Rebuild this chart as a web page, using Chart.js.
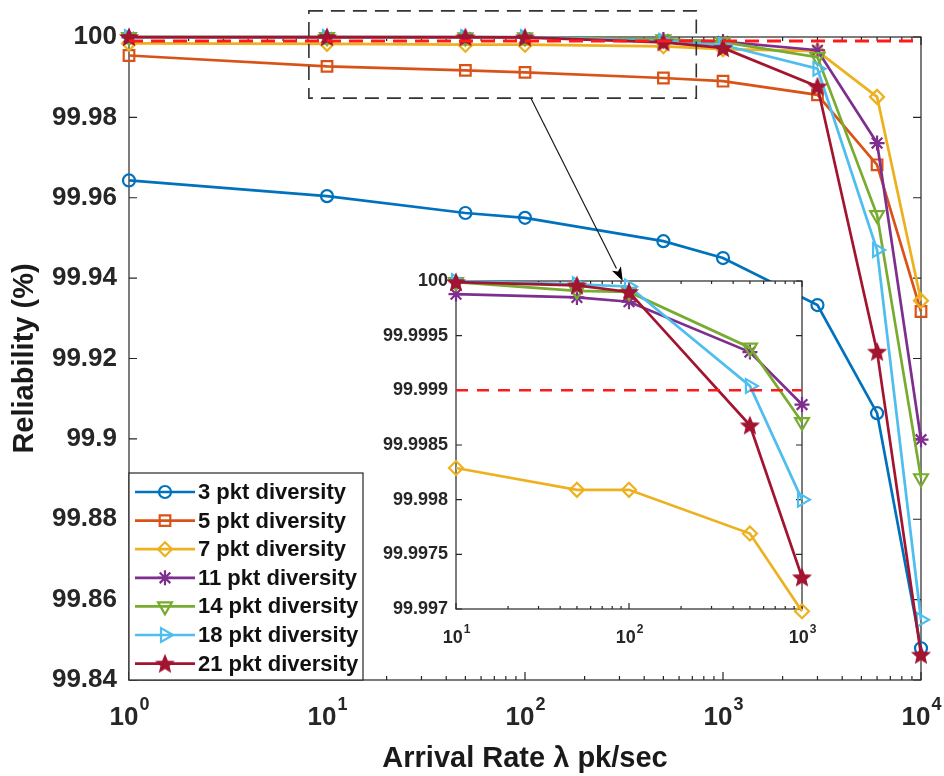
<!DOCTYPE html>
<html>
<head>
<meta charset="utf-8">
<title>Reliability vs arrival rate</title>
<script src="https://cdn.jsdelivr.net/npm/chart.js@4.4.1/dist/chart.umd.min.js"></script>
<style>
  html, body { margin: 0; padding: 0; background: #ffffff; }
  #wrap { position: relative; width: 944px; height: 776px; }
  #wrap canvas { position: absolute; left: 0; top: 0; }
</style>
</head>
<body>
<div id="wrap">
  <canvas id="mainChart" width="944" height="776"></canvas>
  <canvas id="insetChart" width="944" height="776"></canvas>
</div>
<script>
// ---- data -------------------------------------------------------------
// Arrival rate (pk/sec) at which reliability was evaluated
const arrivalRate = [1, 10, 50, 100, 500, 1000, 3000, 6000, 10000];

// Reliability (%) for each packet-diversity level
const rel3  = [99.9643, 99.9604, 99.9562, 99.9550, 99.9492, 99.9450, 99.9333, 99.9064, 99.8479];
const rel5  = [99.9954, 99.9927, 99.9917, 99.9912, 99.9898, 99.9890, 99.9856, 99.9682, 99.9317];
const rel7  = [99.9984, 99.99829, 99.99809, 99.99809, 99.99769, 99.99698, 99.9965, 99.9851, 99.9344];
const rel11 = [99.99990, 99.99988, 99.99985, 99.99981, 99.99935, 99.99887, 99.9967, 99.9736, 99.8998];
const rel14 = [100.0000, 99.99999, 99.99991, 99.99990, 99.99939, 99.99871, 99.9950, 99.9557, 99.8902];
const rel18 = [100.0000, 100.0000, 99.99997, 99.99995, 99.99904, 99.99800, 99.9921, 99.9470, 99.8550];
const rel21 = [100.0000, 99.99999, 99.99996, 99.99990, 99.99868, 99.99729, 99.9877, 99.9217, 99.8463];

const seriesNames = ['3 pkt diversity', '5 pkt diversity', '7 pkt diversity', '11 pkt diversity',
                     '14 pkt diversity', '18 pkt diversity', '21 pkt diversity'];
const seriesValues = [rel3, rel5, rel7, rel11, rel14, rel18, rel21];

// five-nines reliability target
const targetReliability = 99.999;

// main axes ticks
const mainYTicks  = [99.84, 99.86, 99.88, 99.9, 99.92, 99.94, 99.96, 99.98, 100];
const mainYLabels = ['99.84', '99.86', '99.88', '99.9', '99.92', '99.94', '99.96', '99.98', '100'];
const mainXDecades   = [1, 10, 100, 1000, 10000];
const mainXExponents = ['0', '1', '2', '3', '4'];

// close-up of the 10 .. 1000 pk/sec range (series 7 .. 21 pkt)
const insetFirst = 1, insetLast = 5;
const insetSeries = [2, 3, 4, 5, 6];
const insetYTicks  = [99.997, 99.9975, 99.998, 99.9985, 99.999, 99.9995, 100];
const insetYLabels = ['99.997', '99.9975', '99.998', '99.9985', '99.999', '99.9995', '100'];
const insetXDecades   = [10, 100, 1000];
const insetXExponents = ['1', '2', '3'];

// region of the main axes that the close-up enlarges, and the arrow linking them
const zoomBoxRate = [8.1, 733];
const zoomBoxRel  = [99.9848, 100.0065];
const arrowStart  = [107, 99.9848];   // main axes (rate, reliability)
const arrowEnd    = [92, 100];        // close-up axes (rate, reliability)

// ---- styling ----------------------------------------------------------
const FONT = '"Liberation Sans", Arial, Helvetica, sans-serif';
const AXIS_COLOR = '#262626';

function pentagram(color, r) {
  const c = document.createElement('canvas');
  const s = Math.ceil(2 * r + 4);
  c.width = s; c.height = s;
  const g = c.getContext('2d');
  g.translate(s / 2, s / 2 + 0.8);
  g.beginPath();
  for (let i = 0; i < 10; i++) {
    const rr = i % 2 ? r * 0.45 : r;
    const ang = -Math.PI / 2 + i * Math.PI / 5;
    g.lineTo(rr * Math.cos(ang), rr * Math.sin(ang));
  }
  g.closePath();
  g.fillStyle = color; g.fill();
  g.lineWidth = 1.2; g.strokeStyle = color; g.stroke();
  return c;
}

const seriesStyle = [
  { color: '#0072BD', marker: 'circle',   radius: 6,   rotation: 0 },
  { color: '#D95319', marker: 'rect',     radius: 7.5, rotation: 0 },
  { color: '#EDB120', marker: 'rectRot',  radius: 7,   rotation: 0 },
  { color: '#7E2F8E', marker: 'star',     radius: 7.5, rotation: 0 },
  { color: '#77AC30', marker: 'triangle', radius: 8,   rotation: 180 },
  { color: '#4DBEEE', marker: 'triangle', radius: 8,   rotation: 90 },
  { color: '#A2142F', marker: pentagram('#A2142F', 9), radius: 8.5, rotation: 0 }
];

function makeSeries(idx, xs, first, last) {
  const st = seriesStyle[idx];
  const vals = seriesValues[idx].slice(first, last + 1);
  return {
    label: seriesNames[idx],
    data: xs.map((x, j) => ({ x: x, y: vals[j] })),
    borderColor: st.color,
    backgroundColor: 'rgba(0,0,0,0)',
    borderWidth: 2.7,
    pointStyle: st.marker,
    pointRadius: st.radius,
    pointRotation: st.rotation,
    pointBorderWidth: 2.2,
    pointBorderColor: st.color,
    pointBackgroundColor: 'rgba(0,0,0,0)',
    tension: 0,
    clip: false,
    order: seriesValues.length - idx
  };
}

function targetLine(xFrom, xTo, width, dash) {
  return {
    label: 'target',
    isTarget: true,
    data: [{ x: xFrom, y: targetReliability }, { x: xTo, y: targetReliability }],
    borderColor: '#FF1A1A',
    borderWidth: width,
    borderDash: dash,
    pointRadius: 0,
    clip: false,
    order: -1
  };
}

// box, inward ticks on all four sides and 10^n labels
function axesFrame(cfg) {
  return {
    id: 'axesFrame',
    beforeDraw(chart) {
      if (!cfg.fill) return;
      const { ctx, chartArea: a } = chart;
      ctx.save();
      ctx.fillStyle = '#ffffff';
      ctx.fillRect(a.left, a.top, a.right - a.left, a.bottom - a.top);
      ctx.restore();
    },
    beforeDatasetsDraw(chart) {
      const { ctx, chartArea: a, scales: { x, y } } = chart;
      ctx.save();
      ctx.strokeStyle = AXIS_COLOR;
      ctx.lineWidth = 1.2;
      ctx.strokeRect(a.left, a.top, a.right - a.left, a.bottom - a.top);
      ctx.beginPath();
      cfg.yTicks.forEach(v => {
        const py = y.getPixelForValue(v);
        ctx.moveTo(a.left, py);  ctx.lineTo(a.left + cfg.major, py);
        ctx.moveTo(a.right, py); ctx.lineTo(a.right - cfg.major, py);
      });
      const lo = Math.floor(Math.log10(x.min) + 1e-9);
      const hi = Math.ceil(Math.log10(x.max) - 1e-9);
      for (let d = lo; d <= hi; d++) {
        for (let m = 1; m <= 9; m++) {
          const v = m * Math.pow(10, d);
          if (v < x.min * 0.999 || v > x.max * 1.001) continue;
          const px = x.getPixelForValue(v);
          const len = m === 1 ? cfg.major : cfg.minor;
          ctx.moveTo(px, a.bottom); ctx.lineTo(px, a.bottom - len);
          ctx.moveTo(px, a.top);    ctx.lineTo(px, a.top + len);
        }
      }
      ctx.stroke();

      // decade labels 10^n
      ctx.fillStyle = AXIS_COLOR;
      ctx.textBaseline = 'alphabetic';
      ctx.textAlign = 'left';
      cfg.xDecades.forEach((v, i) => {
        const px = x.getPixelForValue(v);
        ctx.font = 'bold ' + cfg.baseSize + 'px ' + FONT;
        const wb = ctx.measureText('10').width;
        ctx.font = 'bold ' + cfg.expSize + 'px ' + FONT;
        const we = ctx.measureText(cfg.xExp[i]).width;
        const x0 = px - (wb + we) / 2;
        const base = a.bottom + cfg.labelDrop;
        ctx.font = 'bold ' + cfg.baseSize + 'px ' + FONT;
        ctx.fillText('10', x0, base);
        ctx.font = 'bold ' + cfg.expSize + 'px ' + FONT;
        ctx.fillText(cfg.xExp[i], x0 + wb + 1, base - cfg.expRaise);
      });
      ctx.restore();
    }
  };
}

// dashed box around the enlarged region
const zoomBoxPlugin = {
  id: 'zoomBox',
  afterDatasetsDraw(chart) {
    const { ctx, scales: { x, y } } = chart;
    const x0 = x.getPixelForValue(zoomBoxRate[0]), x1 = x.getPixelForValue(zoomBoxRate[1]);
    const y0 = y.getPixelForValue(zoomBoxRel[1]),  y1 = y.getPixelForValue(zoomBoxRel[0]);
    ctx.save();
    ctx.strokeStyle = '#333333';
    ctx.lineWidth = 1.6;
    ctx.setLineDash([14, 8]);
    ctx.strokeRect(x0, y0, x1 - x0, y1 - y0);
    ctx.restore();
  }
};

// legend box in the lower-left corner of the main axes
const boxLegendPlugin = {
  id: 'boxLegend',
  afterDraw(chart) {
    const { ctx, chartArea: a } = chart;
    const left = a.left, right = 363, top = 473, bottom = a.bottom;
    const rowTop = 492, rowStep = 28.6;
    ctx.save();
    ctx.fillStyle = '#ffffff';
    ctx.fillRect(left, top, right - left, bottom - top);
    ctx.strokeStyle = AXIS_COLOR;
    ctx.lineWidth = 1.2;
    ctx.strokeRect(left, top, right - left, bottom - top);
    let row = 0;
    chart.data.datasets.forEach(ds => {
      if (ds.isTarget) return;
      const yy = rowTop + row * rowStep;
      ctx.strokeStyle = ds.borderColor;
      ctx.lineWidth = 2.7;
      ctx.setLineDash([]);
      ctx.beginPath();
      ctx.moveTo(left + 6, yy); ctx.lineTo(left + 66, yy);
      ctx.stroke();
      ctx.fillStyle = 'rgba(0,0,0,0)';
      ctx.lineWidth = 2.2;
      Chart.helpers.drawPoint(ctx, {
        pointStyle: ds.pointStyle, rotation: ds.pointRotation,
        radius: ds.pointRadius, borderWidth: 2.2
      }, left + 36, yy);
      ctx.fillStyle = '#111111';
      ctx.font = 'bold 22px ' + FONT;
      ctx.textAlign = 'left';
      ctx.textBaseline = 'middle';
      ctx.fillText(ds.label, left + 69, yy + 1);
      row++;
    });
    ctx.restore();
  }
};

// ---- main axes ----------------------------------------------------------
const mainDatasets = seriesValues.map((_, i) => makeSeries(i, arrivalRate, 0, arrivalRate.length - 1));
mainDatasets.push(targetLine(arrivalRate[0], arrivalRate[arrivalRate.length - 1], 3, [14, 8]));

const mainChart = new Chart(document.getElementById('mainChart'), {
  type: 'line',
  data: { datasets: mainDatasets },
  options: {
    responsive: false,
    animation: false,
    events: [],
    layout: { autoPadding: false, padding: { left: 0, right: 23, top: 37, bottom: 0 } },
    plugins: { legend: { display: false }, tooltip: { enabled: false } },
    scales: {
      x: {
        type: 'logarithmic', min: 1, max: 10000,
        afterBuildTicks: s => { s.ticks = mainXDecades.map(v => ({ value: v })); },
        afterFit: s => { s.height = 96; },
        grid: { display: false, drawTicks: false },
        border: { display: false },
        ticks: { display: false },
        title: {
          display: true, text: 'Arrival Rate \u03bb pk/sec', color: '#1a1a1a',
          font: { family: FONT, size: 29, weight: 'bold' },
          padding: { top: 0, bottom: 0 }
        }
      },
      y: {
        type: 'linear', min: 99.84, max: 100,
        afterBuildTicks: s => { s.ticks = mainYTicks.map(v => ({ value: v })); },
        afterFit: s => { s.width = 129; },
        grid: { display: false, drawTicks: false },
        border: { display: false },
        ticks: {
          autoSkip: false, padding: 12, color: AXIS_COLOR,
          font: { family: FONT, size: 26, weight: 'bold' },
          callback: (v, i) => mainYLabels[i]
        },
        title: {
          display: true, text: 'Reliability (%)', color: '#1a1a1a',
          font: { family: FONT, size: 29, weight: 'bold' },
          padding: { top: 8, bottom: 0 }
        }
      }
    }
  },
  plugins: [
    axesFrame({ yTicks: mainYTicks, xDecades: mainXDecades, xExp: mainXExponents,
                major: 8, minor: 4, baseSize: 26, expSize: 18, labelDrop: 45, expRaise: 15, fill: false }),
    zoomBoxPlugin,
    boxLegendPlugin
  ]
});

// ---- close-up axes ------------------------------------------------------
const insetRate = arrivalRate.slice(insetFirst, insetLast + 1);
const insetDatasets = insetSeries.map(i => makeSeries(i, insetRate, insetFirst, insetLast));
insetDatasets.push(targetLine(insetRate[0], insetRate[insetRate.length - 1], 2.5, [12, 9]));

const arrowPlugin = {
  id: 'linkArrow',
  afterDraw(chart) {
    const { ctx, scales: { x, y } } = chart;
    const mx = mainChart.scales.x, my = mainChart.scales.y;
    const sx = mx.getPixelForValue(arrowStart[0]), sy = my.getPixelForValue(arrowStart[1]);
    const ex = x.getPixelForValue(arrowEnd[0]),    ey = y.getPixelForValue(arrowEnd[1]);
    const ang = Math.atan2(ey - sy, ex - sx);
    const headLen = 14, headHalf = 5;
    ctx.save();
    ctx.strokeStyle = '#1a1a1a';
    ctx.lineWidth = 1.2;
    ctx.beginPath();
    ctx.moveTo(sx, sy);
    ctx.lineTo(ex - Math.cos(ang) * headLen, ey - Math.sin(ang) * headLen);
    ctx.stroke();
    ctx.fillStyle = '#000000';
    ctx.beginPath();
    ctx.moveTo(ex, ey);
    ctx.lineTo(ex - Math.cos(ang) * headLen - Math.sin(ang) * headHalf,
               ey - Math.sin(ang) * headLen + Math.cos(ang) * headHalf);
    ctx.lineTo(ex - Math.cos(ang) * headLen * 0.75, ey - Math.sin(ang) * headLen * 0.75);
    ctx.lineTo(ex - Math.cos(ang) * headLen + Math.sin(ang) * headHalf,
               ey - Math.sin(ang) * headLen - Math.cos(ang) * headHalf);
    ctx.closePath();
    ctx.fill();
    ctx.restore();
  }
};

const insetChart = new Chart(document.getElementById('insetChart'), {
  type: 'line',
  data: { datasets: insetDatasets },
  options: {
    responsive: false,
    animation: false,
    events: [],
    layout: { autoPadding: false, padding: { left: 376, right: 142, top: 281, bottom: 123 } },
    plugins: { legend: { display: false }, tooltip: { enabled: false } },
    scales: {
      x: {
        type: 'logarithmic', min: 10, max: 1000,
        afterBuildTicks: s => { s.ticks = insetXDecades.map(v => ({ value: v })); },
        afterFit: s => { s.height = 44; },
        grid: { display: false, drawTicks: false },
        border: { display: false },
        ticks: { display: false }
      },
      y: {
        type: 'linear', min: 99.997, max: 100,
        afterBuildTicks: s => { s.ticks = insetYTicks.map(v => ({ value: v })); },
        afterFit: s => { s.width = 80; },
        grid: { display: false, drawTicks: false },
        border: { display: false },
        ticks: {
          autoSkip: false, padding: 8, color: AXIS_COLOR,
          font: { family: FONT, size: 18, weight: 'bold' },
          callback: (v, i) => insetYLabels[i]
        }
      }
    }
  },
  plugins: [
    axesFrame({ yTicks: insetYTicks, xDecades: insetXDecades, xExp: insetXExponents,
                major: 6, minor: 3, baseSize: 18, expSize: 12, labelDrop: 34, expRaise: 10, fill: true }),
    arrowPlugin
  ]
});
</script>
</body>
</html>
